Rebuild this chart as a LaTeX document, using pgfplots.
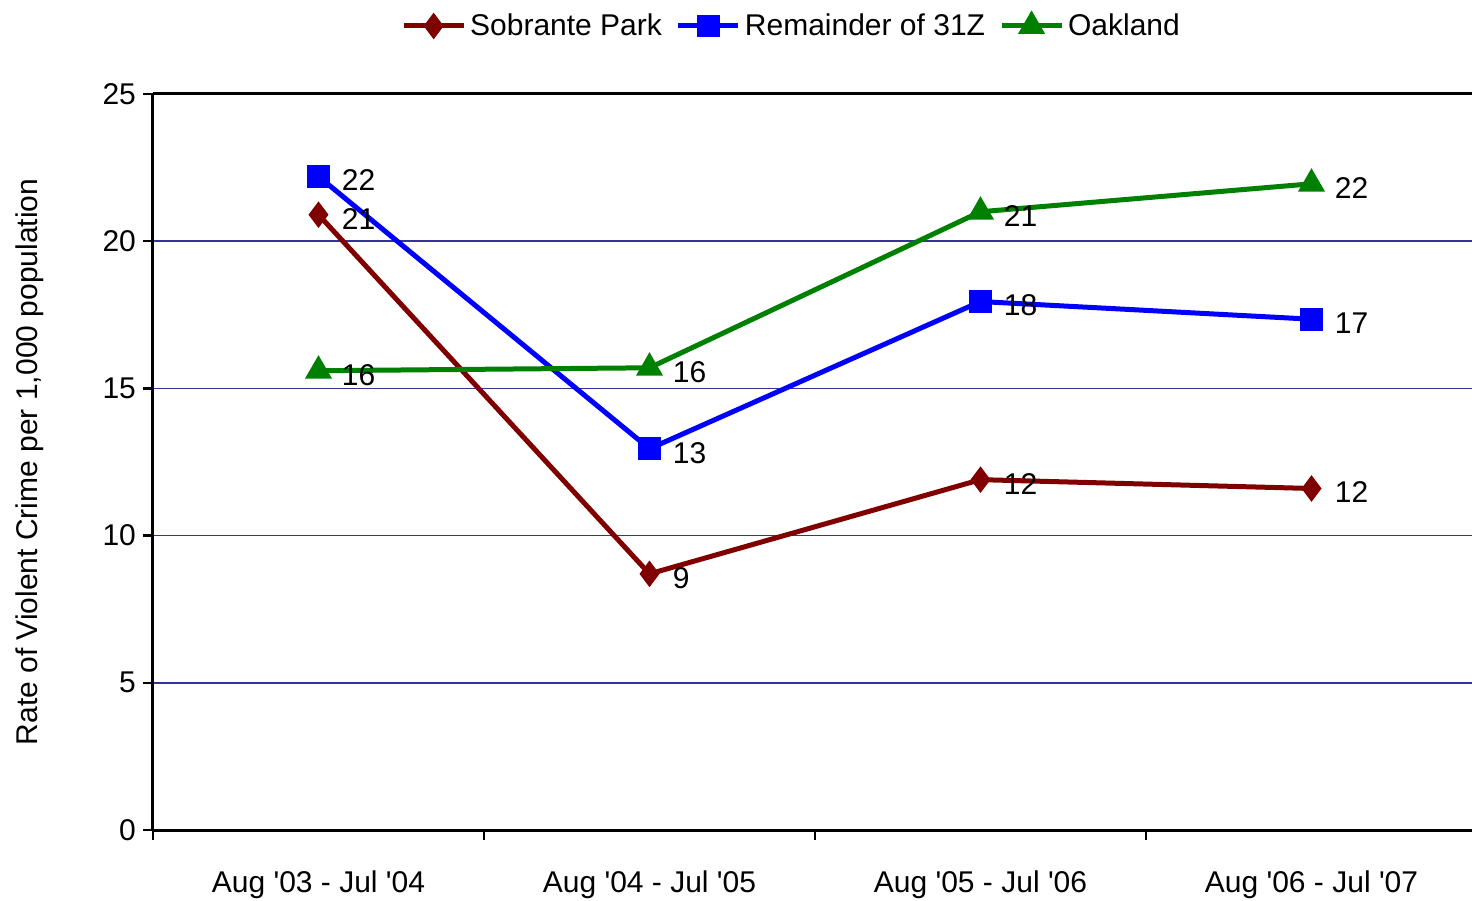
\documentclass[border=0pt]{standalone}
\usepackage{fontspec}
\setmainfont{Liberation Sans}
\usepackage{pgfplots}
\pgfplotsset{compat=1.18}
\usepackage{pgfplotstable}
\definecolor{sob}{HTML}{800000}
\definecolor{rem}{HTML}{0000FF}
\definecolor{oak}{HTML}{008000}
\definecolor{gridc}{HTML}{333399}

\pgfplotstableread{
x y lab
0 20.9 21
1 8.7 9
2 11.9 12
3 11.6 12
}\sobtab
\pgfplotstableread{
x y lab
0 22.2 22
1 12.95 13
2 17.95 18
3 17.35 17
}\remtab
\pgfplotstableread{
x y lab
0 15.6 16
1 15.7 16
2 21.0 21
3 21.95 22
}\oaktab

\newcommand{\lbl}{\fontsize{15}{17}\selectfont}
\begin{document}
\begin{tikzpicture}
\useasboundingbox (-76.5pt,-35pt) rectangle (659.5pt,415pt);
\begin{axis}[
  at={(0pt,0pt)}, anchor=south west,
  scale only axis, width=662pt, height=368pt,
  xmin=-0.5, xmax=3.5, ymin=0, ymax=25,
  axis x line*=bottom, axis y line*=left,
  axis line style={line width=1.5pt, black},
  every tick/.style={black, line width=1.2pt},
  tick align=outside, major tick length=5pt,
  xtick={-0.5,0.5,1.5,2.5,3.5},
  x tick label as interval,
  xticklabels={Aug \textquotesingle 03 - Jul \textquotesingle 04, Aug \textquotesingle 04 - Jul \textquotesingle 05, Aug \textquotesingle 05 - Jul \textquotesingle 06, Aug \textquotesingle 06 - Jul \textquotesingle 07},
  x tick label style={yshift=-12pt},
  ytick={0,5,10,15,20,25},
  ymajorgrids, grid style={gridc, line width=0.8pt},
  tick label style={font=\lbl},
  /pgf/number format/assume math mode=true,
  ylabel={Rate of Violent Crime per 1,000 population},
  ylabel style={font=\lbl, at={(axis description cs:-0.077,0.5)}, anchor=south},
  legend columns=3,
  legend style={draw=none, at={(axis description cs:0.483,1)}, anchor=center, yshift=34pt, font=\lbl,
    /tikz/every even column/.append style={column sep=5pt}},
  legend image code/.code={\draw[mark repeat=2,mark phase=2,#1] plot coordinates {(0pt,0pt) (15pt,0pt) (30pt,0pt)};},
  nodes near coords, point meta=explicit symbolic,
  nodes near coords style={anchor=west, xshift=8pt, yshift=-2pt, font=\lbl, black},
  clip=false,
]
\addplot[sob, line width=2.5pt, mark=diamond*, mark size=6pt, mark options={line width=0.8pt, solid}] table[x=x,y=y,meta=lab] {\sobtab};
\addlegendentry{Sobrante Park}
\addplot[rem, line width=2.5pt, mark=square*, mark size=5.3pt, mark options={line width=0.8pt, solid}] table[x=x,y=y,meta=lab] {\remtab};
\addlegendentry{Remainder of 31Z}
\addplot[oak, line width=2.5pt, mark=triangle*, mark size=7pt, mark options={line width=0.8pt, solid}] table[x=x,y=y,meta=lab] {\oaktab};
\addlegendentry{Oakland}
\draw[line width=1.5pt, black] (rel axis cs:0,1) -- (rel axis cs:1,1);
\end{axis}
\end{tikzpicture}
\end{document}
